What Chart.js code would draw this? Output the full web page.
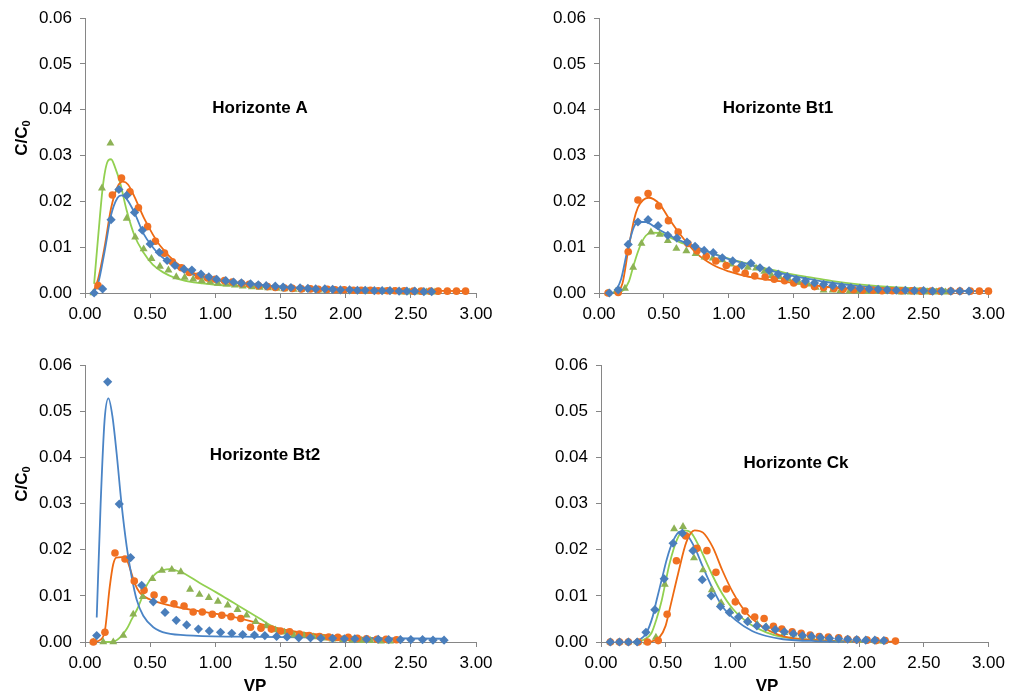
<!DOCTYPE html>
<html>
<head>
<meta charset="utf-8">
<script src="https://cdn.jsdelivr.net/npm/chart.js@4.4.1/dist/chart.umd.min.js"></script>
<style>
    body { margin: 0; background: #fff; width: 1011px; height: 695px; overflow: hidden; }
    canvas { position: absolute; }
</style>
</head>
<body>
<canvas id="chartA" width="505" height="347" style="left:0; top:0;"></canvas>
<canvas id="chartBt1" width="506" height="347" style="left:505px; top:0;"></canvas>
<canvas id="chartBt2" width="505" height="348" style="left:0; top:347px;"></canvas>
<canvas id="chartCk" width="506" height="348" style="left:505px; top:347px;"></canvas>
<script>
// axis ticks (same on every panel)
const xTicks = [0, 0.5, 1, 1.5, 2, 2.5, 3];
const yTicks = [0, 0.01, 0.02, 0.03, 0.04, 0.05, 0.06];

// ---------- Horizonte A ----------
const aBlueX = [0.07, 0.135, 0.20, 0.26, 0.32, 0.38, 0.44, 0.50, 0.57, 0.63, 0.69, 0.76, 0.82, 0.89, 0.95, 1.01, 1.08, 1.14, 1.20, 1.27, 1.33, 1.39, 1.46, 1.52, 1.58, 1.65, 1.71, 1.77, 1.84, 1.90, 1.96, 2.03, 2.09, 2.15, 2.22, 2.28, 2.34, 2.41, 2.47, 2.53, 2.60, 2.66];
const aBlueY = [0, 0.0009, 0.0160, 0.0226, 0.0213, 0.0176, 0.0137, 0.0107, 0.0089, 0.0071, 0.0060, 0.0052, 0.0050, 0.0041, 0.0035, 0.0030, 0.0027, 0.0024, 0.0022, 0.0020, 0.0018, 0.0016, 0.0015, 0.0013, 0.0012, 0.0011, 0.0010, 0.0009, 0.0009, 0.0008, 0.0007, 0.0007, 0.0006, 0.0006, 0.0005, 0.0005, 0.0005, 0.0004, 0.0004, 0.0004, 0.0003, 0.0003];
const aOrangeX = [0.10, 0.21, 0.28, 0.345, 0.41, 0.48, 0.54, 0.61, 0.67, 0.74, 0.80, 0.87, 0.94, 1.00, 1.07, 1.13, 1.20, 1.26, 1.33, 1.40, 1.46, 1.53, 1.59, 1.66, 1.73, 1.79, 1.86, 1.92, 1.99, 2.06, 2.12, 2.19, 2.25, 2.32, 2.38, 2.45, 2.52, 2.58, 2.65, 2.71, 2.78, 2.85, 2.92];
const aOrangeY = [0.0016, 0.0214, 0.0251, 0.0221, 0.0186, 0.0145, 0.0113, 0.0087, 0.0068, 0.0055, 0.0045, 0.0037, 0.0033, 0.0030, 0.0027, 0.0024, 0.0021, 0.0019, 0.0016, 0.0014, 0.0012, 0.0011, 0.0010, 0.0009, 0.0009, 0.0008, 0.0008, 0.0007, 0.0007, 0.0006, 0.0006, 0.0006, 0.0005, 0.0005, 0.0005, 0.0005, 0.0004, 0.0004, 0.0004, 0.0004, 0.0004, 0.0004, 0.0004];
const aGreenX = [0.064, 0.13, 0.195, 0.26, 0.32, 0.385, 0.45, 0.51, 0.575, 0.64, 0.70, 0.765, 0.83, 0.895, 0.96, 1.02, 1.085, 1.15, 1.21, 1.28, 1.34, 1.405, 1.47, 1.53, 1.60, 1.66, 1.725, 1.79, 1.85, 1.92, 1.98, 2.045, 2.11, 2.17, 2.24, 2.30, 2.365, 2.43, 2.49, 2.56, 2.62, 2.685];
const aGreenY = [0, 0.0229, 0.0327, 0.0226, 0.0163, 0.0122, 0.0096, 0.0075, 0.0058, 0.0050, 0.0035, 0.0034, 0.0030, 0.0027, 0.0024, 0.0021, 0.0019, 0.0017, 0.0015, 0.0013, 0.0012, 0.0011, 0.0010, 0.0009, 0.0008, 0.0008, 0.0007, 0.0006, 0.0006, 0.0005, 0.0005, 0.0004, 0.0004, 0.0004, 0.0003, 0.0003, 0.0003, 0.0002, 0.0002, 0.0002, 0.0002, 0.0002];
const aBlueFit = [[0.06, 0], [0.10, 0.002], [0.15, 0.009], [0.20, 0.017], [0.25, 0.0208], [0.28, 0.0213], [0.32, 0.0205], [0.38, 0.0175], [0.45, 0.0129], [0.52, 0.0100], [0.58, 0.0081], [0.70, 0.0056], [0.83, 0.0040], [0.96, 0.0030], [1.10, 0.0024], [1.30, 0.0018], [1.50, 0.0014], [1.75, 0.0010], [2.0, 0.0008], [2.3, 0.0006], [2.66, 0.0005]];
const aOrangeFit = [[0.06, 0], [0.10, 0.003], [0.15, 0.010], [0.20, 0.0185], [0.25, 0.0232], [0.29, 0.0243], [0.33, 0.0237], [0.38, 0.0210], [0.45, 0.0165], [0.52, 0.0128], [0.58, 0.0102], [0.70, 0.0066], [0.83, 0.0044], [0.96, 0.0032], [1.10, 0.0025], [1.30, 0.0019], [1.50, 0.0014], [1.75, 0.0010], [2.0, 0.0008], [2.4, 0.0006], [2.92, 0.0004]];
const aGreenFit = [[0.07, 0.002], [0.10, 0.012], [0.14, 0.024], [0.18, 0.0290], [0.20, 0.0292], [0.23, 0.0275], [0.27, 0.024], [0.32, 0.018], [0.38, 0.0125], [0.45, 0.0088], [0.52, 0.0062], [0.60, 0.0045], [0.70, 0.0032], [0.80, 0.0025], [0.90, 0.0021], [1.0, 0.0018], [1.2, 0.0015], [1.4, 0.0012], [1.6, 0.0010], [1.8, 0.0008], [2.0, 0.0007], [2.3, 0.0005], [2.69, 0.0004]];

// ---------- Horizonte Bt1 ----------
const b1BlueX = [0.08, 0.148, 0.225, 0.30, 0.378, 0.455, 0.53, 0.60, 0.678, 0.74, 0.81, 0.88, 0.95, 1.03, 1.10, 1.17, 1.24, 1.31, 1.38, 1.45, 1.52, 1.59, 1.66, 1.73, 1.80, 1.87, 1.94, 2.01, 2.08, 2.15, 2.22, 2.29, 2.36, 2.43, 2.50, 2.57, 2.64, 2.71, 2.78, 2.85];
const b1BlueY = [0, 0.0007, 0.0106, 0.0155, 0.0160, 0.0147, 0.0126, 0.0120, 0.0111, 0.0102, 0.0093, 0.0088, 0.0077, 0.0070, 0.0060, 0.0065, 0.0055, 0.0049, 0.0041, 0.0036, 0.0030, 0.0026, 0.0022, 0.0019, 0.0016, 0.0014, 0.0012, 0.0010, 0.0009, 0.0008, 0.0007, 0.0006, 0.0006, 0.0005, 0.0005, 0.0004, 0.0004, 0.0004, 0.0004, 0.0004];
const b1OrangeX = [0.07, 0.148, 0.225, 0.30, 0.378, 0.46, 0.535, 0.61, 0.685, 0.755, 0.826, 0.90, 0.98, 1.057, 1.126, 1.20, 1.28, 1.35, 1.43, 1.50, 1.58, 1.66, 1.73, 1.81, 1.88, 1.96, 2.03, 2.11, 2.18, 2.26, 2.33, 2.41, 2.48, 2.56, 2.63, 2.71, 2.78, 2.86, 2.93, 3.0];
const b1OrangeY = [0, 0.0001, 0.0090, 0.0203, 0.0217, 0.0190, 0.0158, 0.0133, 0.0108, 0.0092, 0.0080, 0.0070, 0.0060, 0.0052, 0.0043, 0.0037, 0.0035, 0.0030, 0.0027, 0.0022, 0.0018, 0.0014, 0.0012, 0.0010, 0.0008, 0.0007, 0.0006, 0.0006, 0.0005, 0.0005, 0.0005, 0.0005, 0.0004, 0.0004, 0.0004, 0.0004, 0.0004, 0.0004, 0.0004, 0.0004];
const b1GreenX = [0.07, 0.13, 0.2, 0.263, 0.327, 0.40, 0.468, 0.53, 0.596, 0.673, 0.744, 0.813, 0.877, 0.95, 1.018, 1.09, 1.146, 1.21, 1.274, 1.33, 1.39, 1.46, 1.54, 1.61, 1.67, 1.73, 1.80, 1.86, 1.93, 2.0, 2.06, 2.13, 2.2, 2.27, 2.33, 2.4, 2.47, 2.53, 2.6, 2.67];
const b1GreenY = [0, 0.0003, 0.0010, 0.0056, 0.0108, 0.0133, 0.0128, 0.0114, 0.0097, 0.0092, 0.0086, 0.0078, 0.0076, 0.0072, 0.0063, 0.0061, 0.0056, 0.0054, 0.0047, 0.0038, 0.0035, 0.0030, 0.0023, 0.0019, 0.0012, 0.0006, 0.0006, 0.0005, 0.0004, 0.0004, 0.0003, 0.0003, 0.0003, 0.0003, 0.0002, 0.0002, 0.0002, 0.0002, 0.0002, 0.0002];
const b1BlueFit = [[0.12, 0], [0.17, 0.003], [0.22, 0.0095], [0.27, 0.0145], [0.31, 0.0155], [0.36, 0.0155], [0.42, 0.0146], [0.47, 0.0137], [0.55, 0.0125], [0.62, 0.0115], [0.75, 0.0101], [0.88, 0.0086], [1.0, 0.0074], [1.13, 0.0064], [1.25, 0.0054], [1.39, 0.0044], [1.5, 0.0037], [1.65, 0.0029], [1.75, 0.0024], [2.0, 0.0015], [2.25, 0.0010], [2.5, 0.0007], [2.75, 0.0005], [3.0, 0.0004]];
const b1OrangeFit = [[0.14, 0], [0.18, 0.002], [0.225, 0.0093], [0.27, 0.016], [0.30, 0.0187], [0.34, 0.0203], [0.38, 0.0208], [0.42, 0.0205], [0.47, 0.0193], [0.54, 0.0162], [0.62, 0.013], [0.75, 0.0087], [0.88, 0.0061], [1.0, 0.0047], [1.13, 0.0037], [1.25, 0.0031], [1.39, 0.0026], [1.5, 0.0022], [1.65, 0.0017], [1.8, 0.0012], [2.0, 0.0008], [2.3, 0.0006], [2.6, 0.0005], [3.0, 0.0004]];
const b1GreenFit = [[0.14, 0], [0.19, 0.0007], [0.23, 0.0025], [0.263, 0.0057], [0.30, 0.0090], [0.33, 0.0111], [0.36, 0.0125], [0.40, 0.0132], [0.47, 0.0131], [0.55, 0.0121], [0.62, 0.0111], [0.75, 0.0099], [0.88, 0.0086], [1.0, 0.0075], [1.13, 0.0065], [1.25, 0.0056], [1.39, 0.0047], [1.5, 0.0040], [1.65, 0.0033], [1.8, 0.0026], [2.0, 0.0019], [2.3, 0.0012], [2.67, 0.0008]];

// ---------- Horizonte Bt2 ----------
const b2BlueX = [0.09, 0.174, 0.263, 0.35, 0.435, 0.524, 0.614, 0.70, 0.78, 0.87, 0.954, 1.04, 1.126, 1.21, 1.30, 1.38, 1.47, 1.55, 1.64, 1.73, 1.81, 1.90, 1.99, 2.07, 2.16, 2.25, 2.33, 2.42, 2.50, 2.59, 2.67, 2.755];
const b2BlueY = [0.0014, 0.0564, 0.0299, 0.0183, 0.0123, 0.0087, 0.0064, 0.0047, 0.0037, 0.0028, 0.0024, 0.0021, 0.0019, 0.0016, 0.0015, 0.0014, 0.0012, 0.0011, 0.0009, 0.0009, 0.0008, 0.0008, 0.0007, 0.0007, 0.0006, 0.0006, 0.0005, 0.0005, 0.0005, 0.0005, 0.0004, 0.0004];
const b2OrangeX = [0.064, 0.153, 0.23, 0.307, 0.378, 0.453, 0.53, 0.606, 0.683, 0.76, 0.83, 0.90, 0.977, 1.05, 1.12, 1.195, 1.27, 1.35, 1.43, 1.50, 1.57, 1.645, 1.72, 1.80, 1.87, 1.94, 2.02, 2.09, 2.16, 2.24, 2.31, 2.39];
const b2OrangeY = [0, 0.0021, 0.0193, 0.0180, 0.0132, 0.0112, 0.0102, 0.0092, 0.0083, 0.0078, 0.0065, 0.0065, 0.0060, 0.0058, 0.0055, 0.0051, 0.0032, 0.0030, 0.0028, 0.0024, 0.0022, 0.0017, 0.0014, 0.0012, 0.0011, 0.0010, 0.0010, 0.0008, 0.0007, 0.0006, 0.0006, 0.0005];
const b2GreenX = [0.064, 0.14, 0.217, 0.294, 0.37, 0.443, 0.517, 0.59, 0.666, 0.735, 0.806, 0.878, 0.95, 1.02, 1.095, 1.17, 1.24, 1.31, 1.39, 1.46, 1.53, 1.60, 1.68, 1.75, 1.83, 1.90, 1.98, 2.05, 2.12, 2.19, 2.27, 2.34];
const b2GreenY = [0, 0, 0, 0.0014, 0.0060, 0.0098, 0.0137, 0.0155, 0.0157, 0.0152, 0.0114, 0.0103, 0.0096, 0.0088, 0.0080, 0.0070, 0.0058, 0.0044, 0.0035, 0.0026, 0.0021, 0.0015, 0.0014, 0.0011, 0.0008, 0.0006, 0.0005, 0.0004, 0.0003, 0.0003, 0.0002, 0.0002];
const b2BlueFit = [[0.09, 0.0053], [0.12, 0.030], [0.15, 0.048], [0.18, 0.0528], [0.21, 0.049], [0.243, 0.0408], [0.28, 0.030], [0.32, 0.0207], [0.357, 0.0143], [0.396, 0.0092], [0.447, 0.0057], [0.524, 0.0032], [0.626, 0.0019], [0.83, 0.0014], [1.34, 0.0011], [2.0, 0.0009], [2.75, 0.0007]];
const b2OrangeFit = [[0.064, 0], [0.12, 0.0005], [0.153, 0.0025], [0.19, 0.012], [0.216, 0.0168], [0.24, 0.0183], [0.28, 0.0184], [0.32, 0.0178], [0.35, 0.0155], [0.38, 0.0128], [0.42, 0.0107], [0.50, 0.0092], [0.575, 0.0085], [0.83, 0.0069], [1.09, 0.0057], [1.34, 0.0040], [1.44, 0.0032], [1.70, 0.0019], [1.96, 0.0012], [2.21, 0.0008], [2.39, 0.0005]];
const b2GreenFit = [[0.14, 0], [0.22, 0.0001], [0.27, 0.001], [0.32, 0.0028], [0.36, 0.005], [0.40, 0.0071], [0.44, 0.0098], [0.47, 0.0121], [0.51, 0.0138], [0.55, 0.015], [0.60, 0.0156], [0.65, 0.0158], [0.70, 0.0155], [0.75, 0.015], [0.88, 0.0128], [1.01, 0.0107], [1.14, 0.0085], [1.27, 0.0063], [1.34, 0.0051], [1.44, 0.0034], [1.57, 0.0023], [1.70, 0.0016], [1.96, 0.0009], [2.34, 0.0004]];

// ---------- Horizonte Ck ----------
const ckBlueX = [0.072, 0.143, 0.212, 0.28, 0.348, 0.417, 0.489, 0.558, 0.63, 0.712, 0.784, 0.853, 0.925, 0.994, 1.065, 1.135, 1.207, 1.276, 1.35, 1.42, 1.49, 1.56, 1.63, 1.70, 1.77, 1.84, 1.91, 1.98, 2.05, 2.12, 2.19];
const ckBlueY = [0, 0, 0, 0, 0.0021, 0.0070, 0.0137, 0.0214, 0.0236, 0.0198, 0.0135, 0.0100, 0.0077, 0.0064, 0.0054, 0.0044, 0.0035, 0.0032, 0.0027, 0.0022, 0.0018, 0.0014, 0.0012, 0.0010, 0.0008, 0.0007, 0.0006, 0.0005, 0.0004, 0.0004, 0.0003];
const ckOrangeX = [0.072, 0.143, 0.212, 0.288, 0.36, 0.443, 0.512, 0.584, 0.656, 0.743, 0.82, 0.89, 0.97, 1.04, 1.115, 1.19, 1.263, 1.335, 1.40, 1.48, 1.55, 1.62, 1.69, 1.76, 1.84, 1.91, 1.98, 2.06, 2.13, 2.20, 2.28];
const ckOrangeY = [0, 0, 0, 0, 0, 0.0003, 0.0060, 0.0176, 0.0230, 0.0203, 0.0198, 0.0151, 0.0115, 0.0087, 0.0067, 0.0054, 0.0051, 0.0034, 0.0028, 0.0022, 0.0019, 0.0015, 0.0012, 0.0011, 0.0009, 0.0006, 0.0005, 0.0004, 0.0003, 0.0003, 0.0002];
const ckGreenX = [0.072, 0.143, 0.212, 0.28, 0.355, 0.425, 0.494, 0.566, 0.635, 0.72, 0.79, 0.858, 0.93, 1.0, 1.07, 1.14, 1.21, 1.28, 1.35, 1.42, 1.49, 1.56, 1.63, 1.70, 1.77, 1.84, 1.915, 1.99, 2.06, 2.13, 2.19];
const ckGreenY = [0, 0, 0, 0, 0, 0.0010, 0.0125, 0.0245, 0.0250, 0.0182, 0.0156, 0.0113, 0.0085, 0.0067, 0.0056, 0.0046, 0.0038, 0.0033, 0.0027, 0.0020, 0.0017, 0.0013, 0.0011, 0.0009, 0.0008, 0.0006, 0.0004, 0.0003, 0.0003, 0.0002, 0.0001];
const ckBlueFit = [[0.25, 0], [0.30, 0.0005], [0.35, 0.0019], [0.40, 0.0055], [0.43, 0.009], [0.47, 0.0135], [0.51, 0.0180], [0.558, 0.0219], [0.61, 0.0239], [0.66, 0.0234], [0.725, 0.0205], [0.79, 0.0162], [0.866, 0.0115], [0.94, 0.0077], [1.045, 0.0047], [1.17, 0.0024], [1.28, 0.0013], [1.41, 0.0006], [1.66, 0.0002], [2.0, 0.0001], [2.19, 0.0001]];
const ckOrangeFit = [[0.38, 0], [0.455, 0.0011], [0.50, 0.0035], [0.53, 0.0069], [0.597, 0.0148], [0.66, 0.0216], [0.725, 0.0242], [0.79, 0.0237], [0.866, 0.0205], [0.94, 0.0155], [1.02, 0.0108], [1.12, 0.0065], [1.25, 0.0033], [1.38, 0.0015], [1.5, 0.0008], [1.75, 0.0003], [2.0, 0.0001], [2.28, 0.0001]];
const ckGreenFit = [[0.28, 0], [0.33, 0.0005], [0.39, 0.0019], [0.43, 0.0050], [0.47, 0.009], [0.50, 0.0130], [0.53, 0.0169], [0.59, 0.0223], [0.643, 0.0242], [0.694, 0.0238], [0.763, 0.0205], [0.84, 0.0158], [0.917, 0.0115], [1.02, 0.0072], [1.147, 0.0040], [1.28, 0.0021], [1.40, 0.0011], [1.66, 0.0004], [2.0, 0.0001], [2.19, 0.0001]];

const BLUE = '#4A7EBB', ORANGE = '#F07022', GREEN = '#8DB255';
const BLUE_LINE = '#4A84C6', ORANGE_LINE = '#EE6A12', GREEN_LINE = '#92D050';
const AXIS = '#868686';
const FONT = '"Liberation Sans", Arial, sans-serif';

const toPoints = (xs, ys) => xs.map((x, i) => ({ x: x, y: ys[i] }));
const toCurve = pairs => pairs.map(p => ({ x: p[0], y: p[1] }));

// titles, C/C0 and VP are drawn by hand so the subscript and Excel offsets fit
const panelText = {
    id: 'panelText',
    afterDraw: function (chart, args, opts) {
        const ctx = chart.ctx;
        ctx.save();
        ctx.fillStyle = '#000';
        ctx.textBaseline = 'middle';
        ctx.textAlign = 'center';
        ctx.font = 'bold 17px ' + FONT;
        ctx.fillText(opts.title, opts.titleX, opts.titleY);
        if (opts.xTitle) {
            ctx.fillText('VP', opts.xTitleX, opts.xTitleY);
        }
        if (opts.yTitle) {
            ctx.translate(opts.yTitleX, opts.yTitleY);
            ctx.rotate(-Math.PI / 2);
            ctx.font = 'bold 17px ' + FONT;
            const w1 = ctx.measureText('C/C').width;
            ctx.font = 'bold 11px ' + FONT;
            const w2 = ctx.measureText('0').width;
            const start = -(w1 + w2) / 2;
            ctx.textAlign = 'left';
            ctx.font = 'bold 17px ' + FONT;
            ctx.fillText('C/C', start, 0);
            ctx.font = 'bold 11px ' + FONT;
            ctx.fillText('0', start + w1, 5);
        }
        ctx.restore();
    }
};

function makePanel(id, p) {
    const marker = (label, data, color, style, r) => ({
        label: label, data: data, showLine: false, clip: false,
        pointStyle: style, pointRadius: r, pointHoverRadius: r,
        pointBackgroundColor: color, pointBorderColor: color, pointBorderWidth: 0
    });
    const curve = (label, data, color) => ({
        label: label, data: data, showLine: true, clip: false,
        borderColor: color, borderWidth: 1.8, pointRadius: 0,
        cubicInterpolationMode: 'monotone', fill: false
    });
    return new Chart(document.getElementById(id), {
        type: 'scatter',
        data: {
            datasets: [
                marker('blue', toPoints(p.blueX, p.blueY), BLUE, 'rectRot', 4.6),
                marker('orange', toPoints(p.orangeX, p.orangeY), ORANGE, 'circle', 3.8),
                marker('green', toPoints(p.greenX, p.greenY), GREEN, 'triangle', 4.6),
                curve('blue fit', toCurve(p.blueFit), BLUE_LINE),
                curve('orange fit', toCurve(p.orangeFit), ORANGE_LINE),
                curve('green fit', toCurve(p.greenFit), GREEN_LINE)
            ]
        },
        options: {
            responsive: false,
            animation: false,
            devicePixelRatio: 1,
            layout: { padding: { top: p.padTop, right: p.padRight, left: 0, bottom: 0 } },
            plugins: {
                legend: { display: false },
                tooltip: { enabled: false },
                panelText: p.text
            },
            scales: {
                x: {
                    type: 'linear', min: 0, max: 3,
                    afterBuildTicks: axis => { axis.ticks = xTicks.map(v => ({ value: v })); },
                    afterFit: axis => { axis.height = p.xHeight; },
                    border: { color: AXIS, width: 1 },
                    grid: { drawOnChartArea: false, drawTicks: true, tickLength: 5, color: AXIS },
                    ticks: { color: '#000', font: { family: FONT, size: 17 }, padding: 6, maxRotation: 0,
                        callback: v => v.toFixed(2) }
                },
                y: {
                    type: 'linear', min: 0, max: 0.06,
                    afterBuildTicks: axis => { axis.ticks = yTicks.map(v => ({ value: v })); },
                    afterFit: axis => { axis.width = p.yWidth; },
                    border: { color: AXIS, width: 1 },
                    grid: { drawOnChartArea: false, drawTicks: true, tickLength: 5, color: AXIS },
                    ticks: { color: '#000', font: { family: FONT, size: 17 }, padding: 8,
                        callback: v => v.toFixed(2) }
                }
            }
        },
        plugins: [panelText]
    });
}

makePanel('chartA', {
    blueX: aBlueX, blueY: aBlueY, orangeX: aOrangeX, orangeY: aOrangeY, greenX: aGreenX, greenY: aGreenY,
    blueFit: aBlueFit, orangeFit: aOrangeFit, greenFit: aGreenFit,
    padTop: 15, padRight: 29, yWidth: 85, xHeight: 54,
    text: { title: 'Horizonte A', titleX: 260, titleY: 108, yTitle: true, yTitleX: 22, yTitleY: 138 }
});
makePanel('chartBt1', {
    blueX: b1BlueX, blueY: b1BlueY, orangeX: b1OrangeX, orangeY: b1OrangeY, greenX: b1GreenX, greenY: b1GreenY,
    blueFit: b1BlueFit, orangeFit: b1OrangeFit, greenFit: b1GreenFit,
    padTop: 15, padRight: 21, yWidth: 94, xHeight: 54,
    text: { title: 'Horizonte Bt1', titleX: 273, titleY: 108 }
});
makePanel('chartBt2', {
    blueX: b2BlueX, blueY: b2BlueY, orangeX: b2OrangeX, orangeY: b2OrangeY, greenX: b2GreenX, greenY: b2GreenY,
    blueFit: b2BlueFit, orangeFit: b2OrangeFit, greenFit: b2GreenFit,
    padTop: 16, padRight: 29, yWidth: 85, xHeight: 53,
    text: { title: 'Horizonte Bt2', titleX: 265, titleY: 108, yTitle: true, yTitleX: 22, yTitleY: 137,
        xTitle: true, xTitleX: 255, xTitleY: 339 }
});
makePanel('chartCk', {
    blueX: ckBlueX, blueY: ckBlueY, orangeX: ckOrangeX, orangeY: ckOrangeY, greenX: ckGreenX, greenY: ckGreenY,
    blueFit: ckBlueFit, orangeFit: ckOrangeFit, greenFit: ckGreenFit,
    padTop: 16, padRight: 20, yWidth: 96, xHeight: 53,
    text: { title: 'Horizonte Ck', titleX: 291, titleY: 116, xTitle: true, xTitleX: 262, xTitleY: 339 }
});
</script>
</body>
</html>
